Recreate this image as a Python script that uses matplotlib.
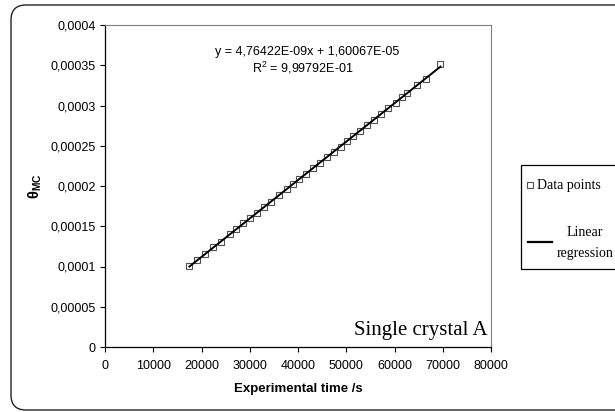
import numpy as np
import matplotlib
matplotlib.use('Agg')
import matplotlib.pyplot as plt
from matplotlib.patches import FancyBboxPatch, Rectangle
from matplotlib.lines import Line2D

plt.rcParams['font.family'] = ['Liberation Sans', 'DejaVu Sans']
plt.rcParams['mathtext.fontset'] = 'custom'
plt.rcParams['mathtext.rm'] = 'Liberation Sans'
plt.rcParams['mathtext.it'] = 'Liberation Sans'
plt.rcParams['mathtext.bf'] = 'Liberation Sans:bold'

# Experimental time (s) and theta_MC
time_s = [17500, 19130, 20790, 22450, 23980, 25910, 27250, 28600, 30050,
          31500, 33020, 34340, 36120, 37660, 38900, 40270, 41660, 43110,
          44560, 45950, 47400, 48810, 50160, 51460, 52850, 54300, 55750,
          57260, 58720, 60210, 61550, 62650, 64730, 66530, 69530]
theta_mc = [1.010e-4, 1.080e-4, 1.160e-4, 1.240e-4, 1.300e-4, 1.400e-4,
            1.465e-4, 1.535e-4, 1.600e-4, 1.665e-4, 1.740e-4, 1.800e-4,
            1.890e-4, 1.960e-4, 2.020e-4, 2.085e-4, 2.150e-4, 2.220e-4,
            2.290e-4, 2.355e-4, 2.425e-4, 2.490e-4, 2.560e-4, 2.620e-4,
            2.685e-4, 2.755e-4, 2.825e-4, 2.895e-4, 2.965e-4, 3.035e-4,
            3.100e-4, 3.155e-4, 3.250e-4, 3.335e-4, 3.510e-4]

x_ticks = [0, 10000, 20000, 30000, 40000, 50000, 60000, 70000, 80000]
y_ticks = [0, 0.00005, 0.0001, 0.00015, 0.0002, 0.00025, 0.0003, 0.00035, 0.0004]
y_tick_labels = ['0', '0,00005', '0,0001', '0,00015', '0,0002', '0,00025',
                 '0,0003', '0,00035', '0,0004']
eq_text = 'y = 4,76422E-09x + 1,60067E-05'
r2_text = 'R$^2$ = 9,99792E-01'

fig = plt.figure(figsize=(6.15, 4.12), dpi=100)
ax = fig.add_axes([105/615, 65/412, 386/615, 322/412])

# outer chart frame (rounded, runs off the right edge)
frame = FancyBboxPatch((0.11, 0.02), 6.4, 4.05, boxstyle='round,pad=0,rounding_size=0.15',
                       transform=fig.dpi_scale_trans, fill=False, ec='#222222', lw=1.0)
fig.add_artist(frame)

t = np.array(time_s)
th = np.array(theta_mc)
slope, icpt = np.polyfit(t, th, 1)
t_fit = np.array([t.min(), t.max()])

ax.plot(t, th, ls='none', marker='s', ms=4, mfc='white', mec='#505050', mew=0.8, zorder=2)
ax.plot(t_fit, slope * t_fit + icpt, color='black', lw=1.4, zorder=3)

ax.set_xlim(0, 80000)
ax.set_ylim(0, 0.0004)
ax.set_xticks(x_ticks)
ax.set_xticklabels([str(v) for v in x_ticks])
ax.set_yticks(y_ticks)
ax.set_yticklabels(y_tick_labels)
ax.tick_params(direction='out', length=3.6, width=0.8, labelsize=9, pad=3)
ax.tick_params(axis='x', pad=6)

for s in ['left', 'bottom']:
    ax.spines[s].set_color('black')
    ax.spines[s].set_linewidth(0.9)
for s in ['top', 'right']:
    ax.spines[s].set_color('#808080')
    ax.spines[s].set_linewidth(0.8)

ax.set_xlabel('Experimental time /s', fontsize=9.5, fontweight='bold', labelpad=8)
ax.set_ylabel(r'$\mathbf{θ_{MC}}$', fontsize=10.5, labelpad=5)

ax.text(0.523, 0.916, eq_text, transform=ax.transAxes, ha='center', va='center', fontsize=9)
ax.text(0.513, 0.866, r2_text, transform=ax.transAxes, ha='center', va='center', fontsize=9)
ax.text(0.99, 0.037, 'Single crystal A', transform=ax.transAxes, ha='right', va='baseline',
        fontsize=15, family='Liberation Serif')

# legend box (cut by the right edge like the reference)
fig.add_artist(Rectangle((5.21, 1.43), 1.5, 1.04, transform=fig.dpi_scale_trans,
                         fill=False, ec='black', lw=0.9))
fig.add_artist(Line2D([5.30], [2.27], transform=fig.dpi_scale_trans, ls='none', marker='s',
                      ms=4, mfc='white', mec='#505050', mew=0.8))
fig.text(5.37, 2.27, 'Data points', transform=fig.dpi_scale_trans, ha='left', va='center',
         fontsize=10, family='Liberation Serif')
fig.add_artist(Line2D([5.277, 5.523], [1.70, 1.70], transform=fig.dpi_scale_trans,
                      color='black', lw=1.6))
fig.text(5.85, 1.79, 'Linear', transform=fig.dpi_scale_trans, ha='center', va='center',
         fontsize=10, family='Liberation Serif')
fig.text(5.85, 1.59, 'regression', transform=fig.dpi_scale_trans, ha='center', va='center',
         fontsize=10, family='Liberation Serif')

fig.savefig('out.png', dpi=100)
